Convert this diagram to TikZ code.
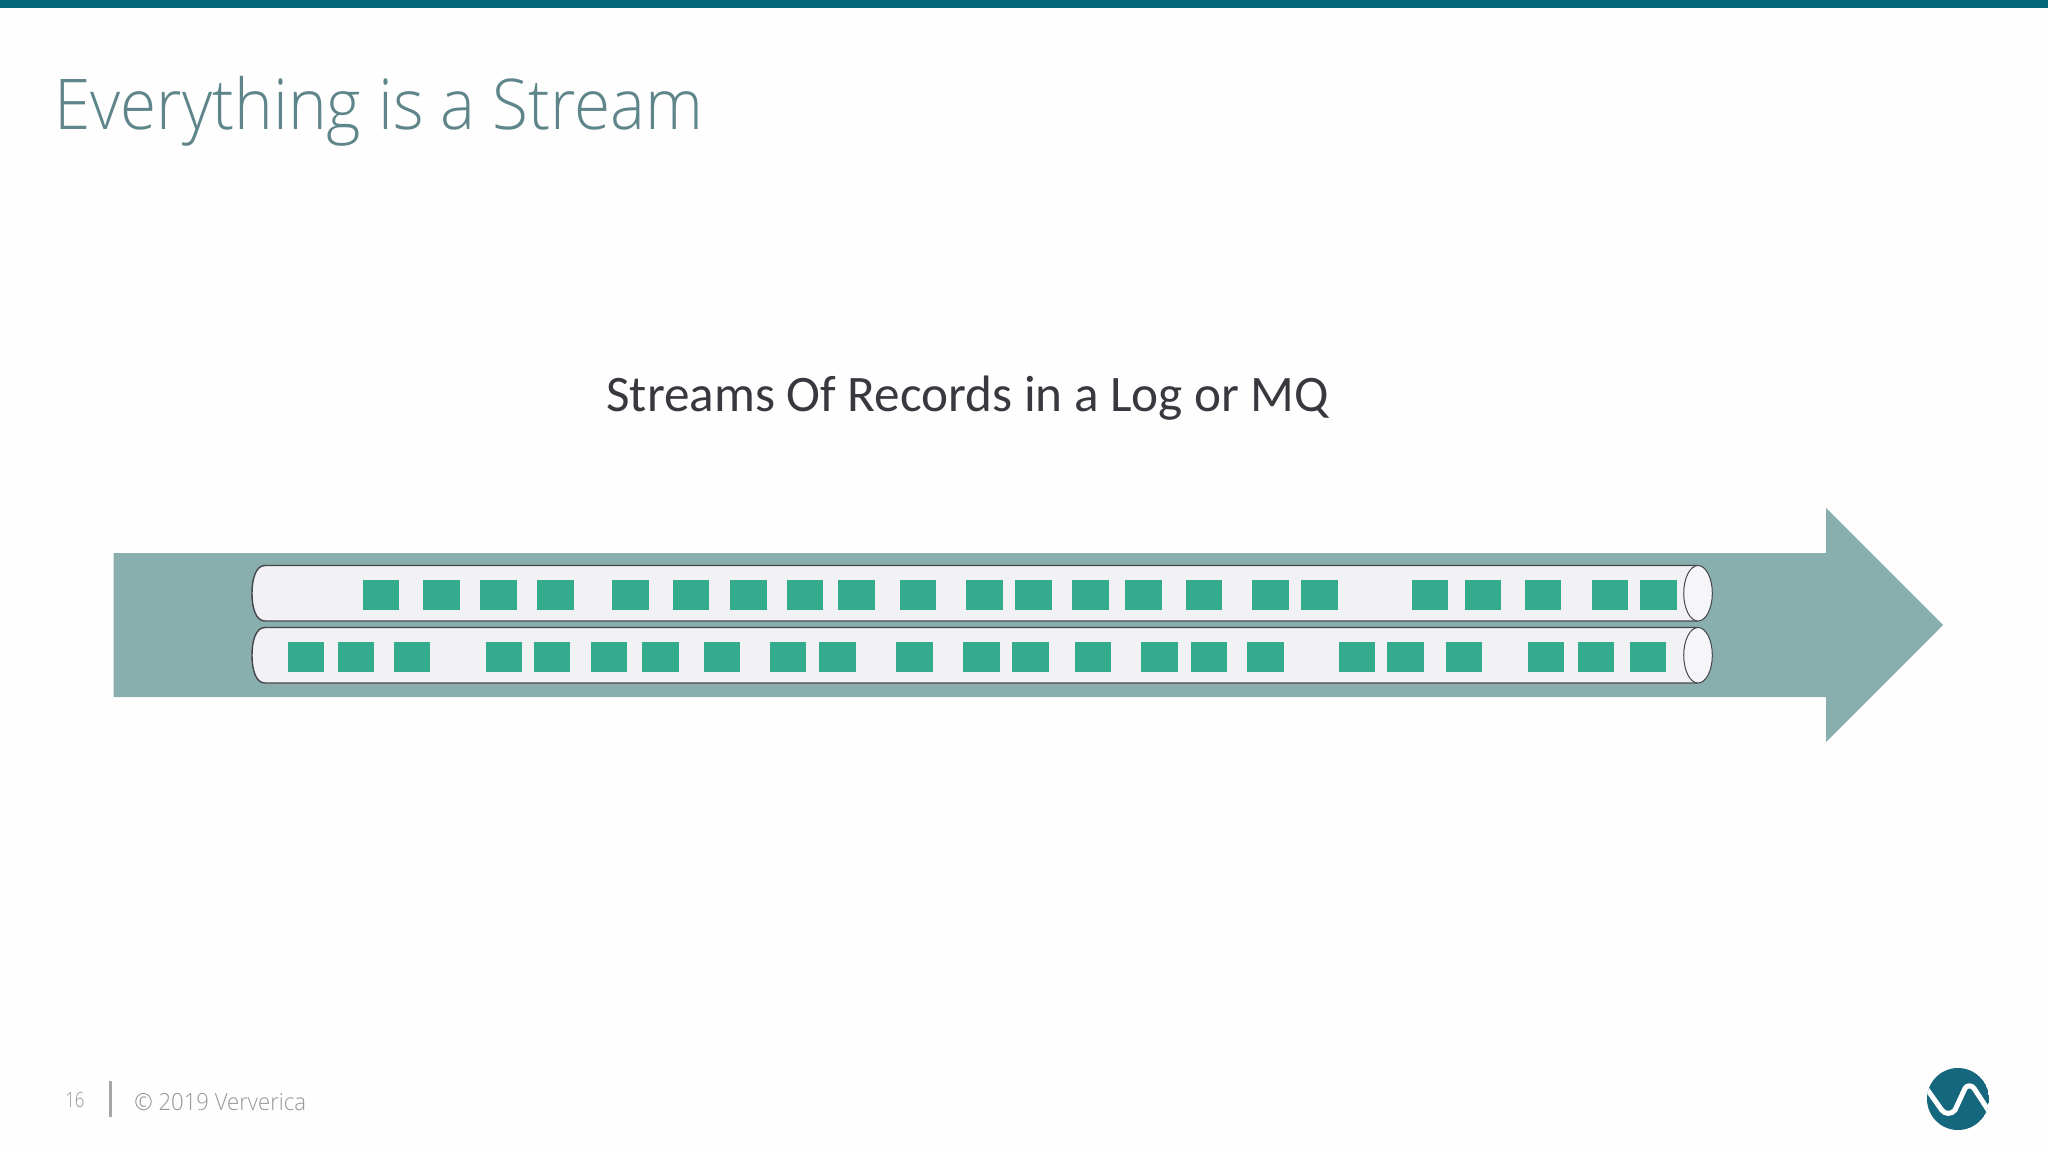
\documentclass[tikz,border=0pt]{standalone}
\usepackage{fontspec}
\setmainfont{Open Sans}
\newfontfamily\titlefont[FakeStretch=0.938]{Open Sans Light}
\newfontfamily\headfont{Carlito}
\definecolor{pagebg}{HTML}{FEFEFE}
\definecolor{barcol}{HTML}{05687A}
\definecolor{arrowcol}{HTML}{88AEAE}
\definecolor{reccol}{HTML}{34AB8C}
\definecolor{tubecol}{HTML}{F2F2F4}
\definecolor{capcol}{HTML}{F6F6F9}
\definecolor{edgecol}{HTML}{45454D}
\definecolor{titlecol}{HTML}{5E8589}
\definecolor{headcol}{HTML}{38383F}
\definecolor{footcol}{HTML}{96969A}
\definecolor{logocol}{HTML}{15677E}
\tikzset{
  rec/.style={fill=reccol,draw=none},
  tubebody/.style={fill=tubecol,draw=edgecol,line width=0.7pt},
  tubecap/.style={fill=capcol,draw=edgecol,line width=0.5pt},
  label/.style={inner sep=0pt,anchor=base west},
}
\begin{document}
\begin{tikzpicture}[x=0.5pt,y=-0.5pt]
\useasboundingbox (0,0) rectangle (2048,1152);
\fill[pagebg] (0,0) rectangle (2048,1152);
\fill[barcol] (0,0) rectangle (2048,8);
\node[label,text=titlecol,font=\titlefont\fontsize{35}{40}\selectfont] (title) at (54,129) {Everything is a Stream};
\node[label,text=headcol,font=\headfont\fontsize{25.6}{30}\selectfont] (head) at (606,411) {Streams Of Records in a Log or MQ};
\fill[arrowcol] (113.5,553) -- (1826,553) -- (1826,508) -- (1943,625) -- (1826,742) -- (1826,697) -- (113.5,697) -- cycle;
% tubes
\foreach \t/\b in {565.5/621,627.5/683}{
  \pgfmathsetmacro{\m}{(\t+\b)/2}
  \draw[tubebody] (1698,\t) -- (265,\t) .. controls (256,\t) and (252,\m-15) .. (252,\m) .. controls (252,\m+15) and (256,\b) .. (265,\b) -- (1698,\b);
  \draw[tubecap] (1698,\m) ellipse [x radius=14.3,y radius=(\b-\t)/2];
}
% records
\foreach \c in {381,441.5,498.7,555.4,630.4,691,748.6,804.9,856.5,917.8,984.4,1033.3,1090.7,1143.2,1204,1270.2,1319.2,1430,1482.8,1543,1610,1658.7}{
  \fill[rec] (\c-18.3,579.7) rectangle (\c+18.3,609.5);
}
\foreach \c in {306,355.8,412,504,552,609,660.7,721.9,788,837.4,914.7,981.7,1030.3,1093,1159.3,1209,1265.3,1357,1405.6,1464,1546,1596,1648}{
  \fill[rec] (\c-18.3,642.3) rectangle (\c+18.3,671.8);
}
% footer
\node[label,text=footcol,font=\titlefont\fontsize{10.5}{12}\selectfont] (page) at (65,1107) {\scalebox{0.85}[1]{16}};
\fill[footcol!85] (108.5,1081) rectangle (111.5,1117);
\node[label,text=footcol,font=\titlefont\fontsize{11.8}{15}\selectfont] (copy) at (134,1110) {© 2019 Ververica};
% logo
\begin{scope}
\clip (1958,1099) circle [radius=31];
\fill[logocol] (1958,1099) circle [radius=31];
\draw[white,line width=2.5pt] (1924,1085) -- (1941.7,1110) .. controls (1945,1114.5) and (1951.5,1114.5) .. (1955,1110) -- (1965,1088.3) .. controls (1967,1085) and (1971.5,1085) .. (1974,1088.3) -- (1992,1116);
\end{scope}
\end{tikzpicture}
\end{document}
